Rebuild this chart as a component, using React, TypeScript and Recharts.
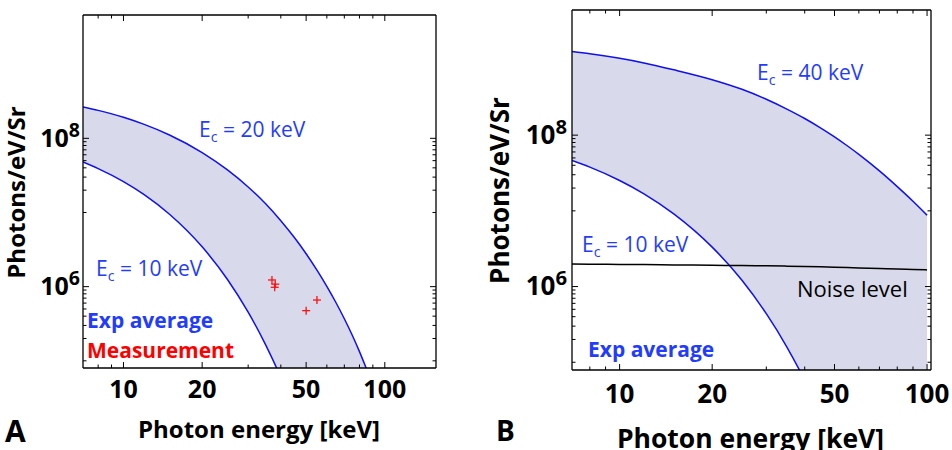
import React from 'react';
import { ComposedChart, Line, Area, Scatter, XAxis, YAxis } from 'recharts';

// Panel A: exp average spectra for Ec = 10 and 20 keV, plus measured points
const energyA = [7, 8, 10, 12, 15, 20, 25, 30, 35, 40, 45, 50, 55, 60, 65, 70, 75, 80, 85, 90];
const ec20A = [2.65e8, 2.38e8, 1.92e8, 1.54e8, 1.11e8, 6.43e7, 3.75e7, 2.21e7, 1.31e7, 7.76e6, 4.63e6, 2.78e6, 1.67e6, 1.01e6, 6.11e5, 3.69e5, 2.23e5, 1.33e5, 7.85e4, 4.62e4];
const ec10A = [4.79e7, 3.91e7, 2.61e7, 1.74e7, 9.46e6, 3.44e6, 1.25e6, 4.53e5, 1.64e5, 5.97e4, 2.17e4, 7.87e3, 2.86e3, 1.04e3, 377, 137, 49.7, 18, 6.5, 2.4];
const measE = [37, 38.1, 37.9, 50, 55];
const measN = [1.23e6, 1.08e6, 9.8e5, 4.75e5, 6.6e5];

// Panel B: Ec = 10 and 40 keV, with noise level
const energyB = [7, 8, 10, 12, 15, 20, 25, 30, 35, 40, 45, 50, 55, 60, 70, 80, 90, 100];
const ec40B = [1.27e9, 1.19e9, 1.035e9, 9.0e8, 7.3e8, 5.4e8, 4.03e8, 2.98e8, 2.21e8, 1.66e8, 1.25e8, 9.5e7, 7.24e7, 5.57e7, 3.37e7, 2.09e7, 1.34e7, 8.77e6];
const ec10B = [4.62e7, 3.78e7, 2.52e7, 1.68e7, 9.14e6, 3.32e6, 1.21e6, 4.38e5, 1.59e5, 5.77e4, 2.09e4, 7.6e3, 2.76e3, 1.0e3, 132, 17.4, 2.3, 0.3];
const noiseB = [1.98e6, 1.97e6, 1.96e6, 1.95e6, 1.93e6, 1.91e6, 1.89e6, 1.88e6, 1.86e6, 1.84e6, 1.82e6, 1.8e6, 1.78e6, 1.76e6, 1.73e6, 1.7e6, 1.68e6, 1.66e6];

const xTickLabels = [10, 20, 50, 100];
const xMinorTicks = [8, 9, 30, 40, 60, 70, 80, 90];
const yTickLabels = [1e6, 1e8];
const yMinorTicks = [1e5, 2e5, 3e5, 4e5, 5e5, 6e5, 7e5, 8e5, 9e5, 1e7, 2e7, 3e7, 4e7, 5e7, 6e7, 7e7, 8e7, 9e7];

const FONT = "'Open Sans', sans-serif";
const CURVE = '#1010f0';
const BAND = '#d8d9ea';
const TEXT_BLUE = '#1f3cff';

const dataA = energyA.map((E, i) => ({ E, upper: ec20A[i], lower: ec10A[i], band: [ec10A[i], ec20A[i]] }));
const pointsA = measE.map((E, i) => ({ E, N: measN[i] }));
const dataB = energyB.map((E, i) => ({ E, upper: ec40B[i], lower: ec10B[i], noise: noiseB[i], band: [ec10B[i], ec40B[i]] }));

const xTicks = [...xMinorTicks, ...xTickLabels].sort((a, b) => a - b);
const yTicks = [...yMinorTicks, ...yTickLabels].sort((a, b) => a - b);

const bottomTick = (fontSize: number, gap: number) => (p: any) => {
  const v = p.payload.value;
  const major = xTickLabels.includes(v);
  return (
    <g>
      <line x1={p.x} x2={p.x} y1={p.y} y2={p.y - (major ? 6 : 3.5)} stroke="#000" />
      {major && (
        <text x={p.x} y={p.y + gap} textAnchor="middle" fontSize={fontSize} fontWeight={700} fill="#000" fontFamily={FONT}>
          {v}
        </text>
      )}
    </g>
  );
};

const topTick = (p: any) => {
  const major = xTickLabels.includes(p.payload.value);
  return <line x1={p.x} x2={p.x} y1={p.y} y2={p.y + (major ? 6 : 3.5)} stroke="#000" />;
};

const leftTick = (fontSize: number, gap: number) => (p: any) => {
  const v = p.payload.value;
  const major = yTickLabels.includes(v);
  return (
    <g>
      <line x1={p.x} x2={p.x + (major ? 6 : 3.5)} y1={p.y} y2={p.y} stroke="#000" />
      {major && (
        <text x={p.x - gap} y={p.y + 8.5} textAnchor="end" fontSize={fontSize} fontWeight={700} fill="#000" fontFamily={FONT}>
          10
          <tspan fontSize={fontSize * 0.78} dy={-10}>{Math.round(Math.log10(v))}</tspan>
        </text>
      )}
    </g>
  );
};

const rightTick = (p: any) => {
  const major = yTickLabels.includes(p.payload.value);
  return <line x1={p.x} x2={p.x - (major ? 6 : 3.5)} y1={p.y} y2={p.y} stroke="#000" />;
};

const PlusMark = (p: any) => (
  <g stroke="#ff1010" strokeWidth={1.3}>
    <line x1={p.cx - 4} x2={p.cx + 4} y1={p.cy} y2={p.cy} />
    <line x1={p.cx} x2={p.cx} y1={p.cy - 4} y2={p.cy + 4} />
  </g>
);

type PanelProps = {
  data: any[];
  xDomain: [number, number];
  yDomain: [number, number];
  margin: { top: number; right: number; bottom: number; left: number };
  tickFont: number;
  xGap: number;
  yFont: number;
  yGap: number;
  points?: any[];
  noise?: boolean;
};

// axes are 1px thick so they still render; margins below are plot box minus that 1px
function Panel({ data, xDomain, yDomain, margin, tickFont, xGap, yFont, yGap, points, noise }: PanelProps) {
  const axisLine = { stroke: '#000', strokeWidth: 1.3 };
  return (
    <ComposedChart width={476} height={450} data={data} margin={margin}>
      <XAxis dataKey="E" type="number" scale="log" domain={xDomain} allowDataOverflow ticks={xTicks} interval={0}
        height={1} tickSize={0} tickMargin={0} tickLine={false} axisLine={axisLine} tick={bottomTick(tickFont, xGap)} />
      <XAxis xAxisId="top" orientation="top" dataKey="E" type="number" scale="log" domain={xDomain} allowDataOverflow ticks={xTicks}
        interval={0} height={1} tickSize={0} tickMargin={0} tickLine={false} axisLine={axisLine} tick={topTick} />
      <YAxis type="number" scale="log" domain={yDomain} allowDataOverflow ticks={yTicks} interval={0}
        width={1} tickSize={0} tickMargin={0} tickLine={false} axisLine={axisLine} tick={leftTick(yFont, yGap)} />
      <YAxis yAxisId="right" orientation="right" type="number" scale="log" domain={yDomain} allowDataOverflow ticks={yTicks}
        interval={0} width={1} tickSize={0} tickMargin={0} tickLine={false} axisLine={axisLine} tick={rightTick} />
      <Area dataKey="band" type="monotone" fill={BAND} fillOpacity={1} stroke="none" isAnimationActive={false} />
      <Line dataKey="upper" type="monotone" stroke={CURVE} strokeWidth={1.5} dot={false} isAnimationActive={false} />
      <Line dataKey="lower" type="monotone" stroke={CURVE} strokeWidth={1.5} dot={false} isAnimationActive={false} />
      {noise && <Line dataKey="noise" type="monotone" stroke="#000" strokeWidth={1.5} dot={false} isAnimationActive={false} />}
      {points && <Scatter data={points} dataKey="N" shape={PlusMark} isAnimationActive={false} />}
    </ComposedChart>
  );
}

const Ec = ({ x, y, label, size = 21 }: { x: number; y: number; label: string; size?: number }) => (
  <text x={x} y={y} fontSize={size} fill={TEXT_BLUE} fontFamily={FONT}>
    E<tspan fontSize={size * 0.68} dy={5}>c</tspan>
    <tspan dy={-5}>{' = ' + label}</tspan>
  </text>
);

export default function App() {
  return (
    <div style={{ position: 'absolute', left: 0, top: 0, width: 952, height: 450, background: '#fff', fontFamily: FONT }}>
      <div style={{ position: 'absolute', left: 0, top: 0 }}>
        <Panel data={dataA} xDomain={[7, 157]} yDomain={[8e4, 4.6e9]} margin={{ top: 14, right: 39, bottom: 81, left: 82 }}
          tickFont={25} xGap={30} yFont={25} yGap={3} points={pointsA} />
      </div>
      <div style={{ position: 'absolute', left: 476, top: 0 }}>
        <Panel data={dataB} xDomain={[7, 103]} yDomain={[7.9e4, 4.5e9]} margin={{ top: 9, right: 20, bottom: 79, left: 95 }}
          tickFont={26} xGap={32.5} yFont={26} yGap={5} noise />
      </div>
      <svg width={952} height={450} style={{ position: 'absolute', left: 0, top: 0, pointerEvents: 'none' }} fontFamily={FONT}>
        <text transform="translate(25,192.5) rotate(-90)" textAnchor="middle" fontSize={24} fontWeight={700} fill="#000">Photons/eV/Sr</text>
        <text transform="translate(509,190.5) rotate(-90)" textAnchor="middle" fontSize={26} fontWeight={700} fill="#000">Photons/eV/Sr</text>
        <text x={259} y={438} textAnchor="middle" fontSize={24} fontWeight={700} fill="#000">Photon energy [keV]</text>
        <text x={750.5} y={448} textAnchor="middle" fontSize={26.5} fontWeight={700} fill="#000">Photon energy [keV]</text>
        <text x={5} y={442} fontSize={30} fontWeight={700} fill="#000">A</text>
        <text x={496} y={441} fontSize={28} fontWeight={700} fill="#000">B</text>
        <Ec x={199} y={137} label="20 keV" />
        <Ec x={96} y={276} label="10 keV" />
        <text x={87} y={328} fontSize={21} fontWeight={700} fill={TEXT_BLUE}>Exp average</text>
        <text x={87} y={358} fontSize={21} fontWeight={700} fill="#ff0000">Measurement</text>
        <Ec x={757} y={80} label="40 keV" />
        <Ec x={582} y={252} label="10 keV" />
        <text x={797} y={297} fontSize={22} fill="#000">Noise level</text>
        <text x={588} y={357} fontSize={21} fontWeight={700} fill={TEXT_BLUE}>Exp average</text>
      </svg>
    </div>
  );
}
